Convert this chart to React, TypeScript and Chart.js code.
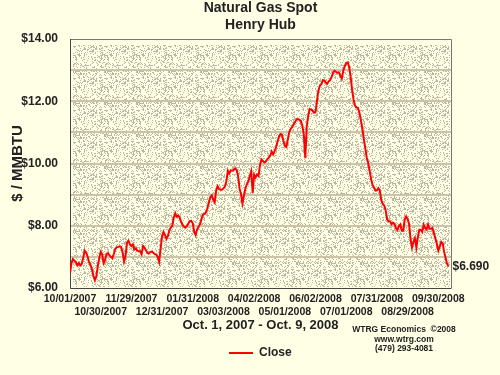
import React, { useEffect, useRef } from 'react';
import { Chart, registerables } from 'chart.js';

Chart.register(...registerables);

const TITLE = ['Natural Gas Spot', 'Henry Hub'];
const Y_TITLE = '$ / MMBTU';
const X_TITLE = 'Oct. 1, 2007 - Oct. 9, 2008';
const SERIES_LABEL = 'Close';
const LAST_LABEL = '$6.690';
const CREDITS = ['WTRG Economics  \u00A92008', 'www.wtrg.com', '(479) 293-4081'];

const tickDates = [
  '10/01/2007', '10/30/2007', '11/29/2007', '12/31/2007', '01/31/2008', '03/03/2008',
  '04/02/2008', '05/01/2008', '06/02/2008', '07/01/2008', '07/31/2008', '08/29/2008', '09/30/2008',
];
const TRADING_DAYS_PER_TICK = 21;

// Daily Henry Hub close, Oct 1 2007 - Oct 9 2008
const close = [
  6.47, 6.80, 6.93, 6.88, 6.83, 6.73, 6.80, 6.73, 6.77, 6.96,
  7.20, 7.14, 7.02, 6.84, 6.74, 6.60, 6.40, 6.25, 6.36, 6.69,
  6.96, 7.16, 7.08, 6.80, 6.90, 7.10, 7.12, 7.05, 7.00, 6.95,
  7.09, 7.26, 7.31, 7.32, 7.34, 7.32, 7.14, 6.85, 7.03, 7.46,
  7.52, 7.40, 7.35, 7.40, 7.24, 7.27, 7.20, 7.18, 7.18, 7.09,
  7.35, 7.30, 7.21, 7.12, 7.11, 7.16, 7.17, 7.13, 7.09, 7.07,
  7.00, 6.84, 7.27, 7.66, 7.80, 7.70, 7.58, 7.67, 7.86, 7.94,
  8.00, 8.26, 8.40, 8.29, 8.33, 8.27, 8.13, 8.03, 7.97, 7.94,
  7.99, 8.07, 8.15, 8.15, 8.08, 7.80, 7.70, 7.88, 7.98, 8.05,
  8.22, 8.37, 8.38, 8.43, 8.56, 8.74, 8.92, 8.98, 8.83, 8.75,
  9.13, 9.27, 9.18, 9.16, 9.16, 9.20, 9.26, 9.43, 9.77, 9.68,
  9.78, 9.77, 9.79, 9.84, 9.80, 9.60, 9.20, 9.01, 8.72, 8.97,
  9.20, 9.33, 9.42, 9.60, 9.75, 9.05, 9.64, 9.55, 9.65, 9.60,
  9.95, 10.13, 10.08, 10.03, 10.06, 10.14, 10.19, 10.25, 10.38, 10.29,
  10.40, 10.53, 10.70, 10.86, 10.95, 10.93, 10.73, 10.57, 10.53, 10.76,
  11.01, 11.11, 11.17, 11.25, 11.33, 11.42, 11.43, 11.40, 11.37, 11.21,
  10.92, 10.17, 11.20, 11.54, 11.75, 11.73, 11.70, 11.63, 11.65, 12.02,
  12.35, 12.50, 12.55, 12.68, 12.67, 12.60, 12.56, 12.64, 12.68, 12.78,
  12.92, 12.98, 12.94, 12.92, 12.93, 12.82, 12.73, 12.98, 13.13, 13.23,
  13.25, 13.10, 12.80, 12.38, 12.06, 11.86, 11.80, 11.79, 11.64, 11.40,
  11.14, 10.80, 10.50, 10.20, 10.02, 9.78, 9.50, 9.31, 9.23, 9.13,
  9.14, 9.21, 9.13, 8.82, 8.70, 8.65, 8.50, 8.20, 8.15, 8.14,
  8.05, 8.10, 8.06, 7.92, 7.86, 7.98, 8.04, 7.84, 7.84, 8.20,
  8.30, 8.22, 8.06, 7.58, 7.30, 7.48, 7.60, 7.30, 7.62, 7.87,
  7.87, 7.80, 8.03, 7.92, 7.88, 8.04, 7.90, 7.90, 7.93, 7.77,
  7.59, 7.42, 7.20, 7.33, 7.48, 7.44, 7.16, 6.96, 6.78, 6.69,
];

const Y_MIN = 6;
const Y_MAX = 14;
const X_MAX = 260.7;

const FONT = 'Arial, "Liberation Sans", sans-serif';
const PAGE_BG = '#FFFFE6';
const TEXT = '#222222';
const RED = '#FF0000';

// dithered texture of the plot area (deterministic hash, no randomness)
function makePattern(ctx: CanvasRenderingContext2D) {
  const n = 32;
  const pc = document.createElement('canvas');
  pc.width = n;
  pc.height = n;
  const p = pc.getContext('2d')!;
  p.fillStyle = PAGE_BG;
  p.fillRect(0, 0, n, n);
  p.fillStyle = '#BAB6A2';
  let s = 12345;
  for (let y = 0; y < n; y++) {
    for (let x = 0; x < n; x++) {
      s = (s * 1103515245 + 12345) & 0x7fffffff;
      if ((s >> 16) % 100 < 30) p.fillRect(x, y, 1, 1);
    }
  }
  return ctx.createPattern(pc, 'repeat');
}

const decorPlugin = {
  id: 'decor',
  beforeDraw(chart: any) {
    const { ctx, chartArea: a } = chart;
    ctx.save();
    ctx.fillStyle = PAGE_BG;
    ctx.fillRect(0, 0, chart.width, chart.height);
    const pat = makePattern(ctx);
    if (pat) {
      ctx.fillStyle = pat;
      ctx.fillRect(a.left + 3, a.top + 6, a.right - a.left - 4, a.bottom - a.top - 7);
    }
    ctx.restore();
  },
  beforeDatasetsDraw(chart: any) {
    const { ctx, chartArea: a } = chart;
    ctx.save();
    ctx.lineWidth = 1;
    ctx.strokeStyle = '#777777';
    ctx.beginPath();
    ctx.moveTo(a.left, a.top + 0.5);
    ctx.lineTo(a.right + 0.5, a.top + 0.5);
    ctx.lineTo(a.right + 0.5, a.bottom);
    ctx.stroke();
    ctx.strokeStyle = '#444444';
    ctx.beginPath();
    ctx.moveTo(a.left + 0.5, a.top);
    ctx.lineTo(a.left + 0.5, a.bottom + 0.5);
    ctx.lineTo(a.right + 0.5, a.bottom + 0.5);
    ctx.stroke();
    ctx.restore();
  },
  afterDraw(chart: any) {
    const { ctx, chartArea: a } = chart;
    const cx = (a.left + a.right) / 2;
    ctx.save();
    ctx.fillStyle = TEXT;
    ctx.textBaseline = 'middle';
    // title
    ctx.textAlign = 'center';
    ctx.font = `bold 14px ${FONT}`;
    ctx.fillText(TITLE[0], cx, 8);
    ctx.fillText(TITLE[1], cx, 25);
    // last value label
    const meta = chart.getDatasetMeta(0);
    const last = meta.data[meta.data.length - 1];
    ctx.textAlign = 'left';
    ctx.font = `bold 12px ${FONT}`;
    ctx.fillText(LAST_LABEL, last.x + 4, last.y);
    // credits
    ctx.textAlign = 'center';
    ctx.font = `bold 8.5px ${FONT}`;
    ctx.fillText(CREDITS[0], 404, 330);
    ctx.fillText(CREDITS[1], 404, 340);
    ctx.fillText(CREDITS[2], 404, 349);
    // legend
    ctx.strokeStyle = RED;
    ctx.lineWidth = 2;
    ctx.beginPath();
    ctx.moveTo(229, 353);
    ctx.lineTo(253, 353);
    ctx.stroke();
    ctx.textAlign = 'left';
    ctx.font = `bold 12px ${FONT}`;
    ctx.fillText(SERIES_LABEL, 259, 353);
    ctx.restore();
  },
};

export default function App() {
  const ref = useRef<HTMLCanvasElement | null>(null);

  useEffect(() => {
    document.body.style.margin = '0';
    const canvas = ref.current;
    if (!canvas) return;
    const chart = new Chart(canvas, {
      type: 'line',
      data: {
        datasets: [
          {
            label: SERIES_LABEL,
            data: close.map((v, i) => ({ x: i, y: v })),
            borderColor: RED,
            backgroundColor: RED,
            borderWidth: 2,
            pointRadius: 0,
            tension: 0,
            fill: false,
          },
        ],
      },
      options: {
        animation: false,
        responsive: false,
        devicePixelRatio: 1,
        layout: { padding: { top: 39, right: 49, bottom: 0, left: 0 } },
        plugins: {
          legend: { display: false },
          title: { display: false },
          tooltip: { enabled: false },
        },
        scales: {
          x: {
            type: 'linear',
            min: 0,
            max: X_MAX,
            grid: { display: false, drawTicks: false },
            border: { display: false },
            afterBuildTicks: (scale: any) => {
              scale.ticks = tickDates.map((_, k) => ({ value: k * TRADING_DAYS_PER_TICK }));
            },
            afterFit: (scale: any) => {
              scale.height = 87;
            },
            ticks: {
              autoSkip: false,
              maxRotation: 0,
              minRotation: 0,
              padding: 5,
              color: TEXT,
              font: { family: FONT, size: 10.5, weight: 'bold' },
              callback: (_v: any, k: number) =>
                k % 2 === 0 ? [tickDates[k], ''] : ['', tickDates[k]],
            },
            title: {
              display: true,
              text: X_TITLE,
              color: TEXT,
              font: { family: FONT, size: 13, weight: 'bold' },
              padding: { top: 0, bottom: 42 },
            },
          },
          y: {
            type: 'linear',
            min: Y_MIN,
            max: Y_MAX,
            ticks: {
              stepSize: 1,
              padding: 12,
              color: TEXT,
              font: { family: FONT, size: 12, weight: 'bold' },
              callback: (v: any) => (Number(v) % 2 === 0 ? '$' + Number(v).toFixed(2) : ''),
            },
            grid: {
              drawTicks: false,
              lineWidth: 2,
              color: (c: any) =>
                c.tick && (c.tick.value === Y_MIN || c.tick.value === Y_MAX)
                  ? 'rgba(0,0,0,0)'
                  : '#CBC4A9',
            },
            border: { display: false },
            afterFit: (scale: any) => {
              scale.width = 70;
            },
            title: {
              display: true,
              text: Y_TITLE,
              color: TEXT,
              font: { family: FONT, size: 15, weight: 'bold' },
              padding: { top: 9, bottom: 0 },
            },
          },
        },
      },
      plugins: [decorPlugin],
    } as any);
    return () => chart.destroy();
  }, []);

  return (
    <div style={{ width: 500, height: 375 }}>
      <canvas ref={ref} width={500} height={375} style={{ display: 'block', width: 500, height: 375 }} />
    </div>
  );
}
